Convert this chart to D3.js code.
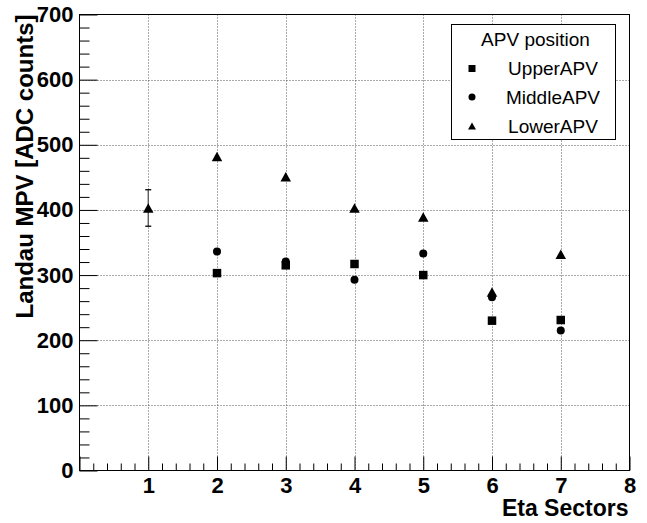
<!DOCTYPE html>
<html>
<head>
<meta charset="utf-8">
<script src="https://cdn.jsdelivr.net/npm/d3@7"></script>
<style>
  html, body { margin: 0; padding: 0; background: #fff; }
  svg { display: block; }
</style>
</head>
<body>
<svg id="chart" width="647" height="523"></svg>
<script>
// ---- data ----
const sectors = [1, 2, 3, 4, 5, 6, 7];
const upperAPV  = [null, 303, 315, 317, 300, 230, 231];
const middleAPV = [null, 336, 321, 293, 333, 266, 215];
const lowerAPV  = [403, 482, 451, 403, 389, 274, 332];
const lowerErr  = [28, 0, 0, 0, 0, 0, 0];
const xTicks = [1, 2, 3, 4, 5, 6, 7, 8];
const yTicks = [0, 100, 200, 300, 400, 500, 600, 700];
const seriesNames = ["UpperAPV", "MiddleAPV", "LowerAPV"];
const legendTitle = "APV position";
const xTitle = "Eta Sectors";
const yTitle = "Landau MPV [ADC counts]";

const svg = d3.select("#chart");
const x = d3.scaleLinear().domain([0, 8]).range([79.5, 629.5]);
const y = d3.scaleLinear().domain([0, 700]).range([470.5, 14.5]);
const FONT = "'Liberation Sans', Arial, Helvetica, sans-serif";

// grid
const grid = svg.append("g").attr("stroke", "#555").attr("stroke-width", 1)
  .attr("stroke-dasharray", "1,2").attr("fill", "none");
grid.selectAll("line.gx").data(xTicks.filter(v => v > 0 && v < 8)).join("line")
  .attr("x1", d => Math.round(x(d)) + 0.5).attr("x2", d => Math.round(x(d)) + 0.5)
  .attr("y1", y(700)).attr("y2", y(0));
grid.selectAll("line.gy").data(yTicks.filter(v => v > 0 && v < 700)).join("line")
  .attr("y1", d => Math.round(y(d)) + 0.5).attr("y2", d => Math.round(y(d)) + 0.5)
  .attr("x1", x(0)).attr("x2", x(8));

// minor ticks
const yMinor = d3.range(0, 701, 20).filter(v => v % 100 !== 0);
const xMinor = d3.range(0, 8.001, 0.2).map(v => +v.toFixed(1)).filter(v => Math.abs(v - Math.round(v)) > 1e-6);

const yMinAxis = svg.append("g").attr("transform", `translate(${x(0)},0)`)
  .call(d3.axisLeft(y).tickValues(yMinor).tickSizeInner(-10).tickSizeOuter(0).tickFormat(""));
yMinAxis.select(".domain").remove();
const xMinAxis = svg.append("g").attr("transform", `translate(0,${y(0)})`)
  .call(d3.axisBottom(x).tickValues(xMinor).tickSizeInner(-7).tickSizeOuter(0).tickFormat(""));
xMinAxis.select(".domain").remove();

// major axes
const yAxis = svg.append("g").attr("transform", `translate(${x(0)},0)`)
  .call(d3.axisLeft(y).tickValues(yTicks).tickSizeInner(-18).tickSizeOuter(0).tickPadding(6).tickFormat(d3.format("d")));
yAxis.select(".domain").remove();
yAxis.selectAll("text").attr("font-family", FONT).attr("font-weight", "bold").attr("font-size", 22).attr("fill", "#000");

const xAxis = svg.append("g").attr("transform", `translate(0,${y(0)})`)
  .call(d3.axisBottom(x).tickValues([0].concat(xTicks)).tickSizeInner(-14).tickSizeOuter(0).tickPadding(7)
    .tickFormat(d => d === 0 ? "" : d3.format("d")(d)));
xAxis.select(".domain").remove();
xAxis.selectAll("text").attr("font-family", FONT).attr("font-weight", "bold").attr("font-size", 22).attr("fill", "#000");
svg.selectAll(".tick line").attr("stroke", "#000");

// frame
svg.append("rect").attr("x", x(0)).attr("y", y(700)).attr("width", x(8) - x(0)).attr("height", y(0) - y(700))
  .attr("fill", "none").attr("stroke", "#000").attr("stroke-width", 1);

// axis titles
svg.append("text").attr("x", x(8) - 1).attr("y", 515.5).attr("text-anchor", "end")
  .attr("font-family", FONT).attr("font-weight", "bold").attr("font-size", 23).text(xTitle);
svg.append("text").attr("transform", `translate(33,${y(700)}) rotate(-90)`).attr("text-anchor", "end")
  .attr("font-family", FONT).attr("font-weight", "bold").attr("font-size", 24).text(yTitle);

// markers
const sym = {
  square: s => `M${-s/2},${-s/2}h${s}v${s}h${-s}Z`,
  circle: s => d3.symbol(d3.symbolCircle, Math.PI * (s/2) * (s/2))(),
  triangle: s => `M0,${-s*0.45}L${s/2},${s*0.45}L${-s/2},${s*0.45}Z`
};
const series = [
  { name: seriesNames[0], vals: upperAPV, shape: "square", size: 8.5 },
  { name: seriesNames[1], vals: middleAPV, shape: "circle", size: 8 },
  { name: seriesNames[2], vals: lowerAPV, shape: "triangle", size: 10.5 }
];

// error bars (LowerAPV)
const eb = svg.append("g").attr("stroke", "#555").attr("stroke-width", 1.3);
sectors.forEach((s, i) => {
  const e = lowerErr[i];
  if (!e || lowerAPV[i] == null) return;
  const cx = x(s);
  eb.append("line").attr("x1", cx).attr("x2", cx).attr("y1", y(lowerAPV[i] + e)).attr("y2", y(lowerAPV[i] - e));
  eb.append("line").attr("x1", cx - 3).attr("x2", cx + 3).attr("y1", y(lowerAPV[i] + e)).attr("y2", y(lowerAPV[i] + e)).attr("stroke", "#000");
  eb.append("line").attr("x1", cx - 3).attr("x2", cx + 3).attr("y1", y(lowerAPV[i] - e)).attr("y2", y(lowerAPV[i] - e)).attr("stroke", "#000");
});

series.forEach(se => {
  svg.append("g").selectAll("path").data(sectors.map((s, i) => ({ s, v: se.vals[i] })).filter(d => d.v != null))
    .join("path").attr("d", sym[se.shape](se.size))
    .attr("transform", d => `translate(${x(d.s)},${y(d.v)})`).attr("fill", "#000");
});

// legend
const lg = svg.append("g");
lg.append("rect").attr("x", 451.5).attr("y", 24.5).attr("width", 164).attr("height", 115)
  .attr("fill", "#fff").attr("stroke", "#000").attr("stroke-width", 1);
lg.append("text").attr("x", 535.5).attr("y", 46).attr("text-anchor", "middle")
  .attr("font-family", FONT).attr("font-size", 19).text(legendTitle);
const rowsY = [68.5, 97, 126];
series.forEach((se, i) => {
  lg.append("path").attr("d", sym[se.shape](se.shape === "triangle" ? 8 : 7))
    .attr("transform", `translate(472,${rowsY[i]})`).attr("fill", "#000");
  lg.append("text").attr("x", 553).attr("y", rowsY[i]).attr("dy", "0.36em").attr("text-anchor", "middle")
    .attr("font-family", FONT).attr("font-size", 19).text(se.name);
});
</script>
</body>
</html>
